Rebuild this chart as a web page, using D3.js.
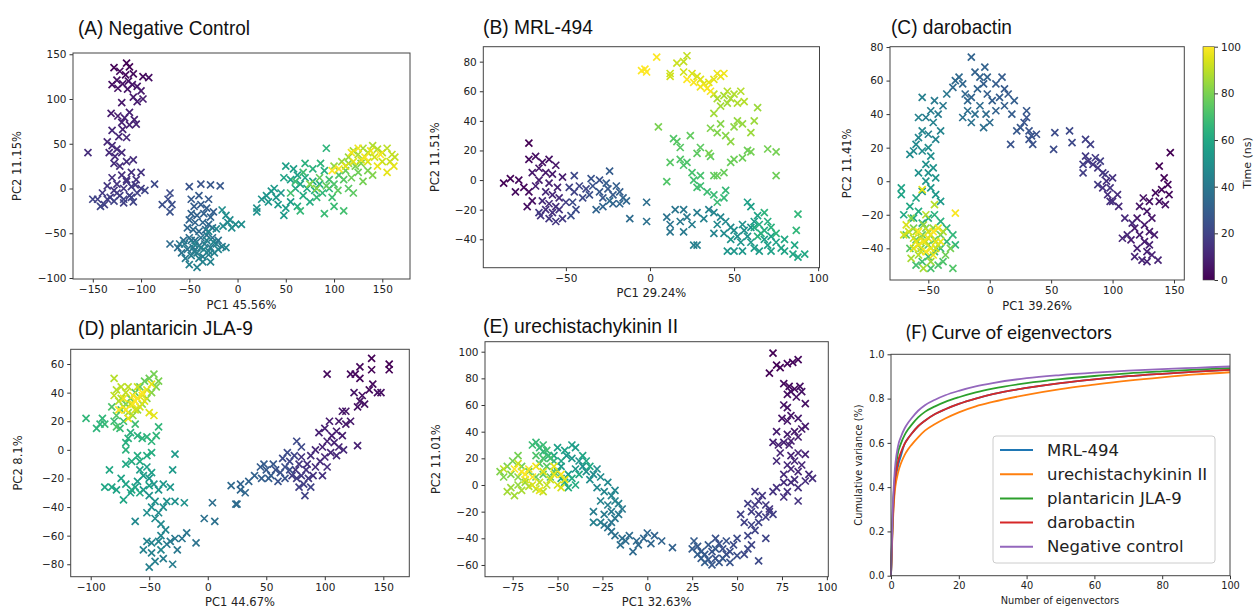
<!DOCTYPE html>
<html>
<head>
<meta charset="utf-8">
<title>PCA of MD trajectories</title>
<script src="https://d3js.org/d3.v7.min.js"></script>
<style>
	body { margin: 0; background: #fff; }
	.tick text { font-family: "DejaVu Sans", sans-serif; fill: #222; }
	.tick line { stroke: #333; }
</style>
</head>
<body>
<svg id="fig" width="1256" height="608"></svg>
<script>
// [PC1, PC2, time (ns)]
var negativeControlPts = [
[-115,140,0],[-112,136,1],[-128,135,1],[-122,131,2],[-116,127,2],[-108,128,3],[-98,125,3],[-92,124,4],[-125,121,4],[-119,117,5],[-113,120,5],[-109,116,6],[-104,114,6],[-130,116,4],[-124,112,5],[-114,111,6],[-100,109,7],[-108,102,7],[-104,97,8],[-98,100,8],[-120,96,7],[-131,84,8],[-124,81,8],[-117,79,9],[-112,85,9],[-107,77,9],[-120,74,10],[-112,71,10],[-105,72,10],[-119,66,10],[-130,65,11],[-123,58,11],[-115,57,11],
[-135,52,11],[-130,48,12],[-125,44,12],[-133,40,12],[-127,36,12],[-120,40,12],[-115,30,13],[-122,25,13],[-108,32,13],[-128,28,13],[-155,40,13],
[-120,15,14],[-130,12,14],[-110,18,14],[-100,18,15],[-125,5,15],[-115,8,15],[-105,10,15],[-135,3,16],[-128,-2,16],[-118,0,16],[-110,2,17],[-100,0,17],[-140,-5,17],[-132,-10,18],[-122,-8,18],[-112,-8,18],[-104,-5,19],[-145,-12,19],[-138,-18,19],[-128,-14,20],[-118,-12,20],[-110,-10,20],[-150,-12,20],[-142,-20,21],[-96,-2,21],[-86,5,22],
[-125,-5,17],[-118,-16,19],[-108,-15,20],[-135,-12,18],[-115,10,15],[-106,4,16],
[-70,-5,23],[-72,-12,23],[-78,-18,24],[-68,-18,24],[-70,-26,25],
[-50,2,26],[-38,5,26],[-28,4,27],[-18,3,27],[-40,-8,28],[-30,-12,28],[-48,-12,28],
[-45,-20,29],[-38,-18,29],[-32,-22,30],[-25,-26,30],[-48,-28,31],[-42,-30,31],[-35,-28,31],[-28,-32,32],[-50,-35,32],[-44,-38,32],[-36,-38,33],[-30,-40,33],[-52,-44,33],[-46,-46,34],[-40,-48,34],[-33,-46,34],[-26,-44,35],
[-70,-62,35],[-62,-66,35],[-56,-58,36],[-50,-55,36],[-44,-58,37],[-38,-55,37],[-32,-52,37],[-26,-55,38],[-20,-58,38],[-58,-72,38],[-52,-68,39],[-46,-66,39],[-40,-64,39],[-34,-62,40],[-28,-66,40],[-22,-62,41],[-16,-65,41],[-54,-78,41],[-48,-75,42],[-42,-72,42],[-36,-76,42],[-30,-74,43],[-24,-72,43],[-50,-85,43],[-42,-88,44],[-36,-82,44],[-28,-82,44],[-12,-66,45],[-45,-62,45],[-35,-68,45],
[-60,-62,40],[-55,-62,41],[-45,-70,42],[-38,-66,43],[-32,-58,44],[-25,-60,45],[-20,-68,45],[-40,-78,43],[-48,-58,38],[-30,-70,44],
[-30,-48,46],[-22,-45,46],[-15,-42,47],[-10,-38,47],[-6,-44,48],[-2,-40,48],[4,-40,49],[-12,-30,49],[-16,-24,49],[-8,-35,48],
[20,-22,50],[20,-26,50],[25,-12,51],[30,-8,52],[35,-3,52],[40,-10,53],[45,-5,53],[38,0,54],[32,-15,53],[48,-30,54],[50,-22,55],[55,-15,55],[42,-18,54],
[50,25,56],[58,22,56],[62,15,57],[55,10,57],[48,12,58],[65,5,58],[70,12,59],[60,0,59],[72,0,60],[78,8,60],[68,-8,61],[75,-15,61],[62,-20,62],[80,-2,62],[85,5,63],[90,20,63],[78,22,64],[70,28,64],[86,28,65],[92,45,65],[88,-5,66],[95,0,66],[82,-10,67],[65,-25,67],[90,-28,68],[100,-20,68],[98,-10,69],[110,-25,70],[60,8,68],[68,18,69],[55,-5,70],
[95,10,71],[100,5,72],[105,15,73],[110,10,74],[115,0,74],[120,-5,75],[104,-2,75],[92,3,76],[85,12,76],[112,20,77],[118,12,78],[125,18,78],[130,8,79],[122,25,80],[135,20,80],[140,15,81],[128,28,81],[75,5,82],[82,0,82],[115,28,83],
[100,25,84],[108,30,85],[115,35,85],[120,42,86],[125,38,87],[130,45,87],[135,40,88],[140,48,88],[145,44,89],[150,40,90],[155,45,90],[160,38,91],[163,35,91],[158,30,92],[150,30,92],[142,35,93],[135,30,94],[128,32,94],[120,30,95],[112,25,95],[155,18,96],[162,25,96],[145,25,97],[138,42,97],[125,45,98],[118,40,98],[132,35,99],[148,38,100],[105,22,99],[98,20,100]
];

var mrl494Pts = [
[-72,25,0],[-87,-2,1],[-83,1,1],[-78,0,2],[-75,-5,2],[-72,-8,3],[-80,-8,3],[-70,-14,4],[-73,-18,4],
[-72,14,3],[-68,16,4],[-64,12,5],[-60,14,5],[-56,10,6],[-66,8,6],[-62,5,7],[-58,4,7],[-70,5,7],[-52,2,8],[-66,0,8],[-60,-2,9],[-68,-4,9],[-55,-5,10],
[-62,-8,11],[-58,-10,11],[-54,-12,12],[-64,-14,12],[-60,-16,13],[-56,-18,13],[-62,-20,14],[-58,-22,14],[-54,-20,15],[-65,-24,15],[-60,-26,16],[-56,-28,16],[-52,-26,17],[-66,-22,17],[-50,-15,18],
[-48,-5,20],[-45,-8,20],[-42,-4,21],[-38,-6,21],[-45,3,22],[-40,-12,22],[-46,-15,23],[-44,-20,23],[-47,-24,24],[-36,-10,24],[-34,-4,25],[-30,0,25],[-35,1,26],
[-30,-8,27],[-28,-12,27],[-25,-6,28],[-22,-10,28],[-26,-2,29],[-24,6,29],[-20,-4,30],[-18,-8,30],[-16,-12,31],[-22,-16,31],[-28,-18,32],[-32,-20,32],[-18,-16,33],[-14,-14,33],[-24,-14,34],
[-12,-26,35],[-2,-15,36],[-2,-28,37],
[10,-25,38],[12,-30,38],[15,-20,39],[12,-35,39],[18,-28,40],[20,-20,40],[22,-25,41],[20,-35,41],[25,-30,42],[28,-22,42],[26,-44,43],[28,-44,43],[32,-26,44],[35,-20,44],[38,-36,45],
[38,-22,46],[42,-25,46],[45,-28,47],[40,-30,47],[48,-32,48],[44,-36,48],[50,-34,49],[52,-38,49],[55,-30,50],[56,-34,50],[58,-38,51],[60,-32,51],[54,-42,52],[48,-40,52],[46,-48,52],[50,-48,53],[55,-48,53],[62,-28,54],[60,-42,54],[62,-46,55],[65,-48,55],[68,-40,56],[70,-44,56],[72,-38,57],[75,-42,57],[72,-48,57],[78,-46,58],[80,-48,58],[85,-50,59],[88,-52,59],[92,-50,60],[86,-44,60],[80,-40,60],[60,-18,56],[58,-15,57],[64,-24,58],
[62,-32,61],[65,-30,62],[68,-34,62],[66,-36,63],[70,-28,63],[72,-32,64],[64,-38,64],[68,-22,65],[75,-36,65],[88,-23,66],[87,-34,66],
[45,-7,67],[44,-12,67],[40,-15,68],[38,-10,68],[34,-8,69],[30,-4,69],[28,-5,70],[26,0,70],[30,3,71],[25,5,71],[22,12,72],[20,10,72],[18,14,73],[14,28,73],[16,26,74],[18,22,74],[12,12,74],[10,-1,73],[28,18,75],[30,22,75],[24,30,76],[36,16,76],[38,3,76],[40,3,77],[44,5,77],[48,12,77],[50,14,78],[55,15,78],[58,20,78],[60,19,79],[70,21,79],[75,19,79],[75,3,78],[5,36,80],[35,18,80],
[36,35,81],[40,32,81],[42,38,82],[45,30,82],[48,26,83],[50,36,83],[52,40,84],[55,38,84],[60,32,85],[62,40,85],[64,49,85],[38,45,86],[42,50,86],[46,52,86],[40,55,87],[44,57,87],[48,55,87],[50,58,88],[52,52,88],[46,60,89],[54,60,89],[56,53,89],[38,58,90],
[22,84,91],[20,80,91],[16,79,92],[12,72,92],[12,70,93],[20,73,93],[25,72,94],[28,70,94],[30,68,95],[32,65,95],[35,66,96],[38,68,96],[40,72,97],[42,70,97],[44,72,98],[30,63,98],[34,62,99],[36,60,99],[26,66,99],[22,68,100],[-5,74,100],[-3,75,100],[-2,73,100],[4,83,100]
];

var darobactinPts = [
[147,17,0],[138,9,1],[142,2,1],[145,-2,2],[140,-5,2],[146,-8,3],[135,-7,3],[138,-12,4],[130,-12,4],[143,-14,5],
[125,-10,5],[122,-15,6],[128,-18,6],[132,-22,6],[120,-22,6],[126,-26,7],[118,-28,7],[130,-30,7],[134,-32,8],[122,-32,8],[126,-36,8],[115,-35,8],[120,-40,9],[128,-42,9],[132,-44,9],[124,-47,10],[118,-45,10],[137,-47,10],[128,-48,10],[112,-32,11],[108,-34,11],[116,-25,11],[110,-22,12],[130,-38,9],
[105,-15,12],[100,-12,13],[104,-8,13],[96,-8,13],[98,-12,14],[92,-4,14],[95,0,14],[100,2,15],[98,-4,15],
[92,5,16],[88,8,16],[84,10,16],[80,12,17],[86,14,17],[78,15,17],[76,10,18],[76,5,18],[82,22,19],[78,25,19],[90,12,18],[94,4,17],[88,-2,17],
[65,30,22],[67,23,22],[53,29,23],[52,19,23],
[35,22,25],[38,28,25],[32,30,26],[30,38,26],[28,35,26],[25,32,27],[22,30,27],[30,42,27],[34,27,26],[17,22,26],[32,25,25],
[15,52,28],[12,55,28],[10,62,29],[5,58,29],[8,50,29],[2,48,30],[-2,52,30],[-5,58,30],[-8,62,31],[-12,65,31],[-4,68,31],[-15,74,32],[-10,55,32],[-15,50,32],[-18,48,33],[-20,52,33],[-22,58,33],[-25,62,34],[-28,60,34],[-30,56,34],[-8,45,35],[-3,40,35],[0,35,35],[-5,32,36],[-12,40,36],[-18,42,36],[-22,38,37],[-15,35,37],[20,48,30],[18,40,29],[5,42,31],[-2,62,31],[12,45,30],
[-35,52,40],[-38,45,40],[-42,40,41],[-45,48,41],[-48,42,42],[-52,38,42],[-55,50,43],[-50,28,43],[-58,38,44],[-46,35,44],[-40,30,45],[-44,25,45],[-55,30,46],[-58,26,46],[-60,22,47],[-62,18,47],[-65,16,48],[-55,18,48],[-50,20,49],[-48,15,49],[-52,10,50],[-58,5,50],[-46,8,51],[-50,5,51],[-44,2,52],[-52,0,52],[-48,-4,53],[-44,-8,53],[-55,-6,54],[-40,-12,54],
[-72,-4,58],[-72,-8,58],[-60,-10,59],[-65,-15,60],[-70,-20,60],[-62,-22,61],[-58,-18,62],[-55,-25,62],[-50,-22,63],[-45,-20,64],[-40,-24,64],[-35,-28,65],[-30,-32,66],[-28,-38,66],[-35,-36,67],[-40,-40,68],[-45,-42,68],[-50,-45,69],[-55,-48,70],[-60,-50,70],[-48,-52,71],[-42,-50,72],[-38,-48,72],[-30,-52,73],[-65,-40,74],[-68,-32,74],[-60,-35,75],[-55,-32,76],[-50,-38,76],[-45,-35,77],[-40,-32,78],[-36,-44,78],[-32,-40,79],[-62,-28,80],[-56,-40,81],[-52,-28,82],[-46,-28,83],[-42,-38,84],[-48,-48,85],[-58,-44,86],[-64,-46,87],[-54,-52,87],[-38,-30,88],[-45,-14,89],[-52,-20,89],[-56,-34,90],[-62,-34,91],[-66,-30,92],[-70,-32,93],[-68,-26,94],[-60,-36,95],[-50,-34,96],[-44,-36,96],[-40,-36,97],[-48,-40,97],[-54,-36,98],[-28,-19,99],[-46,-30,100],[-52,-42,99],[-58,-30,100],[-55,-5,95],
[-60,-30,88],[-52,-36,90],[-48,-32,91],[-44,-40,92],[-56,-42,93],[-50,-30,94],[-62,-40,95],[-46,-44,96],[-58,-38,97],[-42,-28,98],[-54,-26,84],[-64,-22,82]
];

var plantaricinPts = [
[155,60,0],[155,56,0],[140,64,1],[140,56,1],[130,58,2],[126,53,2],[130,50,2],[122,53,3],[141,46,3],[138,42,3],[148,40,4],[145,40,4],[132,38,4],[130,34,5],[134,32,5],[128,30,5],[102,53,3],[125,40,6],[118,27,6],[115,27,6],[122,20,7],[118,18,7],[112,20,7],[110,13,8],[106,10,8],[115,10,8],[128,3,9],
[104,20,8],[100,15,9],[95,12,9],[102,6,9],[108,5,10],[112,2,10],[98,2,10],[92,0,11],[105,-2,11],[100,-5,11],[96,-8,12],[110,-4,12],[116,0,12],[88,-4,13],[92,-12,13],[102,-12,13],[98,-18,14],[90,-18,14],[85,-10,14],[80,-5,15],
[84,-14,15],[78,-10,16],[75,-14,16],[80,-18,17],[86,-20,17],[76,-20,18],[72,-18,18],[82,-24,19],[78,-26,19],[88,-26,20],[83,-32,20],[70,-8,21],[74,-4,21],[80,2,22],[76,6,22],[68,-2,23],[64,-6,23],[70,-14,24],[66,-12,24],[62,-16,25],[58,-14,25],[66,-20,26],[60,-22,26],
[56,-10,27],[54,-18,28],[50,-14,28],[48,-10,29],[45,-12,29],[52,-20,30],[46,-20,30],[40,-18,31],[35,-22,32],[28,-24,32],[32,-30,33],[28,-28,33],[20,-25,34],[25,-38,35],[24,-38,35],[4,-37,36],[-3,-48,37],[6,-50,37],
[-10,-65,38],[-18,-58,39],[-22,-62,39],[-26,-70,40],[-28,-62,40],[-32,-64,41],[-35,-66,41],[-30,-80,42],[-38,-76,42],[-45,-78,43],[-50,-82,43],[-48,-72,44],[-55,-70,44],[-52,-64,45],[-48,-65,45],[-42,-64,45],[-40,-60,46],[-36,-56,46],[-62,-50,47],[-40,-70,46],
[-40,-52,47],[-45,-48,48],[-42,-44,48],[-48,-40,49],[-52,-44,49],[-38,-40,49],[-35,-36,50],[-28,-36,50],[-20,-37,51],[-45,-36,50],[-50,-32,51],[-55,-28,52],[-42,-28,52],[-46,-24,52],[-50,-20,53],[-38,-24,53],[-32,-26,53],[-30,-14,54],[-28,-3,54],
[-55,-18,55],[-60,-22,55],[-58,-14,56],[-52,-12,56],[-48,-16,56],[-62,-26,57],[-66,-30,57],[-70,-24,58],[-74,-20,58],[-78,-28,58],[-82,-26,59],[-88,-26,59],[-72,-35,59],[-84,-14,60],[-70,-10,60],[-65,-8,61],[-58,-8,61],[-52,-4,62],[-48,-2,62],[-60,-4,62],[-65,-28,60],[-58,-30,60],[-50,-25,57],
[-70,5,63],[-68,8,63],[-66,12,64],[-60,10,64],[-56,8,65],[-52,9,65],[-48,6,65],[-42,16,66],[-44,10,66],[-70,0,64],[-95,15,65],[-92,18,65],[-90,22,66],[-104,22,66],[-88,18,67],[-75,15,67],[-72,20,68],[-80,20,68],[-62,18,69],
[-78,16,72],[-82,30,72],[-78,24,73],[-74,28,73],[-70,32,74],[-66,36,74],[-62,40,75],[-58,44,76],[-54,48,77],[-50,50,78],[-46,53,79],[-42,48,80],[-44,44,81],[-48,40,82],[-52,36,83],[-56,32,84],[-60,28,85],[-64,24,85],[-68,26,86],[-72,30,87],[-76,34,88],[-78,42,89],[-80,50,89],[-74,44,90],[-70,40,91],[-66,32,92],[-62,28,93],[-58,30,94],[-54,34,95],[-50,26,95],[-46,24,96],[-68,22,96],[-72,36,97],[-60,36,98],[-64,38,99],[-56,40,100],[-80,38,91],
[-74,36,88],[-68,44,90],[-60,44,92],[-52,42,94],[-48,46,96],[-56,38,97],[-64,32,98],[-70,28,99],[-76,28,100],[-62,34,100]
];

var urechistachykininPts = [
[70,99,0],[72,90,1],[74,88,1],[78,91,2],[81,92,2],[84,94,2],[68,84,1],
[76,76,3],[79,74,3],[82,72,3],[85,74,4],[78,68,4],[80,70,4],[83,66,4],[86,70,5],[88,61,5],[76,60,5],[78,58,5],
[75,50,6],[78,48,6],[80,52,6],[84,50,7],[86,42,7],[88,44,7],[82,40,7],[78,38,8],[84,36,8],[80,33,8],[72,40,8],[70,32,9],[73,30,9],[76,32,9],[79,30,9],[74,24,10],[80,22,10],[84,24,10],[88,23,10],[82,18,11],[86,15,11],[84,10,11],[80,12,11],[78,15,12],[72,18,12],[76,8,12],[90,8,12],[92,5,13],[88,3,13],[82,4,13],[80,2,13],[84,-2,14],[76,2,13],[78,-5,14],[76,-9,14],[84,-12,15],[72,-2,14],[70,-5,15],[68,-18,15],
[60,-5,16],[64,-8,16],[62,-12,16],[66,-15,17],[68,-20,17],[60,-15,17],[58,-20,18],[62,-22,18],[66,-24,18],[70,-22,19],[56,-14,18],[52,-22,19],[54,-28,19],[58,-30,20],[60,-34,20],[62,-28,20],[56,-38,21],[66,-40,21],[62,-57,22],[58,-45,21],[56,-48,22],[54,-52,22],
[50,-40,23],[48,-45,23],[46,-50,24],[44,-52,24],[50,-53,24],[42,-48,25],[40,-44,25],[38,-40,25],[44,-42,26],
[36,-50,26],[38,-55,26],[40,-58,27],[36,-60,27],[34,-56,27],[32,-52,28],[30,-50,28],[28,-46,28],[26,-42,29],[25,-48,29],[30,-55,29],[38,-48,28],[42,-55,27],[34,-45,28],[46,-58,26],[32,-58,30],[28,-52,30],
[14,-47,31],[8,-42,32],[4,-38,32],[0,-36,33],[-2,-40,33],[2,-44,33],[-5,-45,34],[-8,-50,34],[-6,-42,34],[-10,-38,35],[-12,-42,35],[-15,-45,36],[-14,-40,36],
[-18,-38,37],[-20,-35,37],[-22,-32,38],[-24,-30,38],[-20,-28,39],[-18,-25,39],[-16,-22,40],[-14,-18,40],[-20,-20,41],[-24,-22,41],[-26,-28,42],[-30,-20,42],[-30,-28,43],[-22,-15,43],[-18,-12,44],[-16,-14,44],[-20,-8,45],[-26,-12,45],[-24,-5,46],[-18,-4,46],[-28,-2,47],[-22,2,47],[-26,6,48],[-30,8,48],[-32,4,49],[-28,12,49],[-34,10,50],[-36,14,50],
[-38,18,51],[-40,12,52],[-42,20,53],[-45,22,53],[-48,14,54],[-44,8,55],[-40,28,55],[-42,30,56],[-46,26,57],[-50,28,57],[-52,22,58],[-48,18,58],[-36,22,59],[-34,18,59],[-32,14,60],[-38,8,60],[-42,5,61],[-46,2,61],[-40,0,62],[-44,-2,62],[-48,5,63],[-50,10,63],
[-52,18,64],[-55,22,65],[-58,25,66],[-60,28,67],[-62,32,67],[-64,30,68],[-58,30,68],[-56,26,69],[-54,20,70],[-58,20,71],[-62,22,72],[-60,16,73],[-56,14,74],[-52,10,75],[-54,6,75],
[-58,8,76],[-62,6,77],[-66,10,77],[-70,14,78],[-72,22,79],[-75,18,79],[-78,14,80],[-82,10,81],[-80,6,81],[-76,8,82],[-72,6,83],[-68,2,84],[-72,0,84],[-76,-2,85],[-78,-5,86],[-74,-8,86],[-70,-4,87],[-66,-1,88],[-62,-3,89],[-58,-5,90],[-56,0,91],[-60,2,91],[-54,4,92],[-50,0,93],[-48,-2,94],[-46,4,95],[-52,8,96],[-66,12,97],[-70,10,98],[-64,6,99],[-68,8,100],[-74,12,100],[-60,-4,97],[-48,8,99],
[-80,12,90],[-72,16,92],[-68,4,93],[-64,0,94],[-58,10,95],[-52,14,96],[-62,14,98]
];

// (F) cumulative variance vs number of eigenvectors
var eigenN = [0,0.5,1,2,3,4,5,6,8,10,13,16,20,25,30,40,50,60,70,80,90,100];
var cumVarMRL494 = [0,0.24,0.38,0.49,0.545,0.595,0.62,0.64,0.675,0.70,0.73,0.752,0.776,0.80,0.82,0.848,0.870,0.887,0.901,0.912,0.922,0.930];
var cumVarUrechis = [0,0.22,0.36,0.46,0.51,0.545,0.57,0.59,0.625,0.655,0.685,0.71,0.738,0.765,0.785,0.817,0.843,0.863,0.881,0.896,0.909,0.919];
var cumVarPlantaricin = [0,0.28,0.42,0.55,0.60,0.635,0.66,0.68,0.715,0.74,0.765,0.785,0.806,0.828,0.845,0.870,0.888,0.902,0.914,0.923,0.931,0.938];
var cumVarDarobactin = [0,0.26,0.40,0.51,0.56,0.595,0.62,0.64,0.675,0.70,0.73,0.752,0.776,0.80,0.82,0.848,0.870,0.887,0.901,0.912,0.922,0.930];
var cumVarNegative = [0,0.30,0.45,0.58,0.63,0.665,0.69,0.71,0.745,0.77,0.795,0.815,0.835,0.855,0.87,0.892,0.906,0.917,0.926,0.933,0.939,0.945];
var curveNames = ["MRL-494", "urechistachykinin II", "plantaricin JLA-9", "darobactin", "Negative control"];

var ticksA_x = [-150,-100,-50,0,50,100,150], ticksA_y = [-100,-50,0,50,100,150];
var ticksB_x = [-50,0,50,100], ticksB_y = [-40,-20,0,20,40,60,80];
var ticksC_x = [-50,0,50,100,150], ticksC_y = [-40,-20,0,20,40,60,80];
var ticksD_x = [-100,-50,0,50,100,150], ticksD_y = [-80,-60,-40,-20,0,20,40,60];
var ticksE_x = [-75,-50,-25,0,25,50,75,100], ticksE_y = [-60,-40,-20,0,20,40,60,80,100];
var ticksF_x = [0,20,40,60,80,100], ticksF_y = [0,0.2,0.4,0.6,0.8,1.0];
var ticksTime = [0,20,40,60,80,100];

var svg = d3.select("#fig");

var panels = [
	{title: "(A) Negative Control", tw: 172, tx: 78, ty: 35, pts: negativeControlPts, box: [73, 53, 410, 279],
	 xd: [-170.5, 178.7], yd: [-101.1, 151.4], xt: ticksA_x, yt: ticksA_y, xl: "PC1 45.56%", yl: "PC2 11.15%", ylx: 17},
	{title: "(B) MRL-494", tw: 110, tx: 483, ty: 34, pts: mrl494Pts, box: [483.3, 46.7, 819.5, 267.7],
	 xd: [-99.1, 100.8], yd: [-59.2, 90.1], xt: ticksB_x, yt: ticksB_y, xl: "PC1 29.24%", yl: "PC2 11.51%", ylx: 435},
	{title: "(C) darobactin", tw: 121, tx: 891, ty: 34, pts: darobactinPts, box: [890, 46.7, 1184.3, 280],
	 xd: [-81.2, 158.4], yd: [-58.9, 80.2], xt: ticksC_x, yt: ticksC_y, xl: "PC1 39.26%", yl: "PC2 11.41%", ylx: 847},
	{title: "(D) plantaricin JLA-9", tw: 175, tx: 78, ty: 334.5, pts: plantaricinPts, box: [70.7, 349.3, 409.3, 576.7],
	 xd: [-117.1, 172.2], yd: [-88.7, 70.3], xt: ticksD_x, yt: ticksD_y, xl: "PC1 44.67%", yl: "PC2 8.1%", ylx: 18},
	{title: "(E) urechistachykinin II", tw: 195, tx: 483, ty: 332.7, pts: urechistachykininPts, box: [485, 341.7, 828.3, 576.7],
	 xd: [-90.4, 100.8], yd: [-68.8, 107.5], xt: ticksE_x, yt: ticksE_y, xl: "PC1 32.63%", yl: "PC2 11.01%", ylx: 436}
];

function frameAxes(g, x, y, b, xt, yt, fs, fmt) {
	var ax = d3.axisBottom(x).tickValues(xt).tickSizeInner(3.5).tickSizeOuter(0).tickPadding(3);
	var ay = d3.axisLeft(y).tickValues(yt).tickSizeInner(3.5).tickSizeOuter(0).tickPadding(3);
	if (fmt) ay.tickFormat(d3.format(fmt));
	var gx = g.append("g").attr("transform", "translate(0," + b[3] + ")").call(ax);
	var gy = g.append("g").attr("transform", "translate(" + b[0] + ",0)").call(ay);
	[gx, gy].forEach(function (a) {
		a.select(".domain").remove();
		a.selectAll("text").style("font-size", fs + "px");
	});
	g.append("rect").attr("x", b[0]).attr("y", b[1]).attr("width", b[2] - b[0]).attr("height", b[3] - b[1])
		.attr("fill", "none").attr("stroke", "#444").attr("stroke-width", 1);
}

function crossPath(cx, cy, s) {
	return "M" + (cx - s) + "," + (cy - s) + "L" + (cx + s) + "," + (cy + s) +
		"M" + (cx - s) + "," + (cy + s) + "L" + (cx + s) + "," + (cy - s);
}

panels.forEach(function (p) {
	var b = p.box;
	var x = d3.scaleLinear().domain(p.xd).range([b[0], b[2]]);
	var y = d3.scaleLinear().domain(p.yd).range([b[3], b[1]]);
	var g = svg.append("g");

	var pts = p.pts.slice().sort(function (a, c) { return a[2] - c[2]; });
	g.append("g").selectAll("path").data(pts).enter().append("path")
		.attr("d", function (d) { return crossPath(x(d[0]), y(d[1]), 3.5); })
		.attr("fill", "none")
		.attr("stroke-width", 1.7)
		.attr("stroke", function (d) { return d3.interpolateViridis(d[2] / 100); });

	frameAxes(g, x, y, b, p.xt, p.yt, 10.5);

	g.append("text").attr("x", (b[0] + b[2]) / 2).attr("y", b[3] + 29.5)
		.attr("text-anchor", "middle").style("font-family", "DejaVu Sans").style("font-size", "11.5px")
		.attr("fill", "#222").text(p.xl);
	g.append("text").attr("transform", "translate(" + p.ylx + "," + ((b[1] + b[3]) / 2) + ") rotate(-90)")
		.attr("text-anchor", "middle").attr("dominant-baseline", "central")
		.style("font-family", "DejaVu Sans").style("font-size", "11.5px").attr("fill", "#222").text(p.yl);
	g.append("text").attr("x", p.tx).attr("y", p.ty)
		.attr("textLength", p.tw).attr("lengthAdjust", "spacingAndGlyphs")
		.style("font-family", "'Liberation Sans', Arial, sans-serif").style("font-size", "21px")
		.attr("fill", "#111").text(p.title);
});

// colour bar for panel C
(function () {
	var defs = svg.append("defs");
	var grad = defs.append("linearGradient").attr("id", "viridis").attr("x1", 0).attr("y1", 1).attr("x2", 0).attr("y2", 0);
	d3.range(0, 1.0001, 0.05).forEach(function (t) {
		grad.append("stop").attr("offset", t).attr("stop-color", d3.interpolateViridis(t));
	});
	var cy = d3.scaleLinear().domain([0, 100]).range([280, 46.7]);
	svg.append("rect").attr("x", 1203).attr("y", 46.7).attr("width", 11.5).attr("height", 233.3)
		.attr("fill", "url(#viridis)").attr("stroke", "#444").attr("stroke-width", 0.6);
	var ga = svg.append("g").attr("transform", "translate(1214.5,0)")
		.call(d3.axisRight(cy).tickValues(ticksTime).tickSizeInner(3.5).tickSizeOuter(0).tickPadding(3));
	ga.select(".domain").remove();
	ga.selectAll("text").style("font-size", "10.5px");
	svg.append("text").attr("transform", "translate(1247,163) rotate(-90)")
		.attr("text-anchor", "middle").attr("dominant-baseline", "central")
		.style("font-family", "DejaVu Sans").style("font-size", "11px").attr("fill", "#222").text("Time (ns)");
})();

// (F) curve of eigenvectors
(function () {
	var b = [891, 354.3, 1230, 575.7];
	var x = d3.scaleLinear().domain([0, 100]).range([b[0], b[2]]);
	var y = d3.scaleLinear().domain([0, 1]).range([b[3], b[1]]);
	var colors = ["#1f77b4", "#ff7f0e", "#2ca02c", "#d62728", "#9467bd"];
	var series = [cumVarMRL494, cumVarUrechis, cumVarPlantaricin, cumVarDarobactin, cumVarNegative];
	var g = svg.append("g");
	var line = d3.line().x(function (d, i) { return x(eigenN[i]); }).y(function (d) { return y(d); })
		.curve(d3.curveMonotoneX);
	series.forEach(function (s, i) {
		g.append("path").datum(s).attr("d", line).attr("fill", "none")
			.attr("stroke", colors[i]).attr("stroke-width", 1.8);
	});
	frameAxes(g, x, y, b, ticksF_x, ticksF_y, 9.8, ".1f");

	g.append("text").attr("x", 1060).attr("y", 603.5).attr("text-anchor", "middle")
		.style("font-family", "DejaVu Sans").style("font-size", "9.8px").attr("fill", "#222").text("Number of eigenvectors");
	g.append("text").attr("transform", "translate(858," + ((b[1] + b[3]) / 2) + ") rotate(-90)")
		.attr("text-anchor", "middle").attr("dominant-baseline", "central")
		.style("font-family", "DejaVu Sans").style("font-size", "9.8px").attr("fill", "#222").text("Cumulative variance (%)");
	g.append("text").attr("x", 906).attr("y", 339.3).attr("textLength", 206).attr("lengthAdjust", "spacingAndGlyphs")
		.style("font-family", "Lato, 'Open Sans', sans-serif").style("font-size", "19px").attr("fill", "#111")
		.text("(F) Curve of eigenvectors");

	// legend
	var lg = g.append("g");
	lg.append("rect").attr("x", 993).attr("y", 436).attr("width", 222).attr("height", 127).attr("rx", 3)
		.attr("fill", "#fff").attr("fill-opacity", 0.85).attr("stroke", "#ccc");
	curveNames.forEach(function (n, i) {
		var ry = 450 + i * 24.2;
		lg.append("line").attr("x1", 1000).attr("x2", 1033).attr("y1", ry).attr("y2", ry)
			.attr("stroke", colors[i]).attr("stroke-width", 2);
		lg.append("text").attr("x", 1047).attr("y", ry).attr("dominant-baseline", "central")
			.style("font-family", "DejaVu Sans").style("font-size", "16.5px").attr("fill", "#222").text(n);
	});
})();
</script>
</body>
</html>
